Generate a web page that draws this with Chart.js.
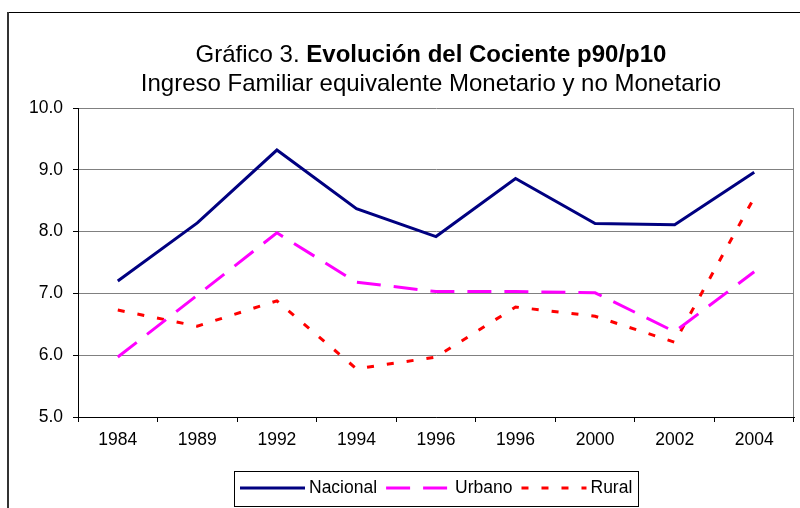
<!DOCTYPE html>
<html>
<head>
<meta charset="utf-8">
<script src="https://cdn.jsdelivr.net/npm/chart.js@4.4.0/dist/chart.umd.min.js"></script>
<style>
  html, body { margin: 0; padding: 0; background: #fff; }
  canvas { display: block; }
</style>
</head>
<body>
<canvas id="chart" width="800" height="508"></canvas>
<script>
// data
const years = ["1984", "1989", "1992", "1994", "1996", "1996", "2000", "2002", "2004"];
const nacional = [7.20, 8.14, 9.32, 8.37, 7.92, 8.86, 8.13, 8.11, 8.96];
const urbano = [5.97, 6.97, 7.98, 7.18, 7.03, 7.03, 7.01, 6.38, 7.35];
const rural = [6.73, 6.47, 6.88, 5.78, 5.97, 6.78, 6.63, 6.21, 8.55];
const yTicks = [5, 6, 7, 8, 9, 10];

const FONT = "'Liberation Sans', Arial, sans-serif";
const SMALL = 17.5;

// title: "Gráfico 3." normal + bold rest, two lines
const titlePlugin = {
  id: "titleText",
  afterDraw(chart) {
    const ctx = chart.ctx;
    const cx = 431;
    ctx.save();
    ctx.fillStyle = "#000";
    ctx.textBaseline = "alphabetic";
    ctx.textAlign = "left";
    const a = "Gráfico 3. ";
    const b = "Evolución del Cociente p90/p10";
    ctx.font = "24px " + FONT;
    const wa = ctx.measureText(a).width;
    ctx.font = "bold 24px " + FONT;
    const wb = ctx.measureText(b).width;
    let x = cx - (wa + wb) / 2;
    ctx.font = "24px " + FONT;
    ctx.fillText(a, x, 62);
    ctx.font = "bold 24px " + FONT;
    ctx.fillText(b, x + wa, 62);
    ctx.font = "24px " + FONT;
    ctx.textAlign = "center";
    ctx.fillText("Ingreso Familiar equivalente Monetario y no Monetario", cx, 91);
    ctx.restore();
  }
};

// outer frame and right border of the plot area
const framePlugin = {
  id: "frame",
  beforeDraw(chart) {
    const ctx = chart.ctx;
    ctx.save();
    ctx.fillStyle = "#fff";
    ctx.fillRect(0, 0, chart.width, chart.height);
    ctx.strokeStyle = "#000";
    ctx.lineWidth = 1;
    ctx.beginPath();
    ctx.moveTo(8, 12.5);
    ctx.lineTo(800, 12.5);
    ctx.stroke();
    ctx.strokeStyle = "#333";
    ctx.lineWidth = 2;
    ctx.beginPath();
    ctx.moveTo(8, 12);
    ctx.lineTo(8, 508);
    ctx.stroke();
    ctx.restore();
  },
  beforeDatasetsDraw(chart) {
    const a = chart.chartArea;
    const ctx = chart.ctx;
    ctx.save();
    ctx.strokeStyle = "#808080";
    ctx.lineWidth = 1;
    ctx.beginPath();
    ctx.moveTo(Math.round(a.right) - 0.5, a.top);
    ctx.lineTo(Math.round(a.right) - 0.5, a.bottom);
    ctx.stroke();
    ctx.restore();
  }
};

// boxed legend under the axis
const legendPlugin = {
  id: "boxLegend",
  afterDraw(chart) {
    const ctx = chart.ctx;
    const sets = chart.data.datasets;
    const lineLen = 65, textGap = 4, itemGap = 9, pad = 6;
    ctx.save();
    ctx.font = SMALL + "px " + FONT;
    const widths = sets.map((d) => ctx.measureText(d.label).width);
    let total = pad * 2 + itemGap * (sets.length - 1);
    widths.forEach((w) => (total += lineLen + textGap + w));
    const cx = (chart.chartArea.left + chart.chartArea.right) / 2;
    const left = Math.round(cx - total / 2);
    const top = 471, h = 35, midY = 488;
    ctx.strokeStyle = "#000";
    ctx.lineWidth = 1;
    ctx.strokeRect(left + 0.5, top + 0.5, Math.round(total), h);
    let x = left + pad;
    sets.forEach((d, i) => {
      ctx.strokeStyle = d.borderColor;
      ctx.lineWidth = d.borderWidth;
      ctx.setLineDash(d.borderDash || []);
      ctx.lineCap = "butt";
      ctx.beginPath();
      ctx.moveTo(x, midY);
      ctx.lineTo(x + lineLen, midY);
      ctx.stroke();
      ctx.setLineDash([]);
      ctx.fillStyle = "#000";
      ctx.textBaseline = "middle";
      ctx.fillText(d.label, x + lineLen + textGap, midY);
      x += lineLen + textGap + widths[i] + itemGap;
    });
    ctx.restore();
  }
};

new Chart(document.getElementById("chart"), {
  type: "line",
  data: {
    labels: years,
    datasets: [
      {
        label: "Nacional",
        data: nacional,
        borderColor: "#000080",
        borderWidth: 3,
      },
      {
        label: "Urbano",
        data: urbano,
        borderColor: "#FF00FF",
        borderWidth: 3,
        borderDash: [24, 13],
      },
      {
        label: "Rural",
        data: rural,
        borderColor: "#FF0000",
        borderWidth: 3,
        borderDash: [7, 13],
      },
    ],
  },
  options: {
    responsive: false,
    devicePixelRatio: 1,
    animation: false,
    events: [],
    layout: { padding: { top: 108, left: 0, right: 6, bottom: 0 } },
    elements: {
      point: { radius: 0 },
      line: { tension: 0, borderCapStyle: "butt", fill: false },
    },
    plugins: {
      legend: { display: false },
      title: { display: false },
      tooltip: { enabled: false },
    },
    scales: {
      x: {
        offset: true,
        afterFit: (s) => { s.height = 91; },
        grid: {
          offset: true,
          drawOnChartArea: false,
          tickLength: 5,
          tickColor: "#000",
        },
        border: { color: "#000", width: 1 },
        ticks: {
          color: "#000",
          font: { family: FONT, size: SMALL },
          padding: 8,
          maxRotation: 0,
          autoSkip: false,
        },
      },
      y: {
        min: yTicks[0],
        max: yTicks[yTicks.length - 1],
        afterFit: (s) => { s.width = 78; },
        afterBuildTicks: (s) => { s.ticks = yTicks.map((v) => ({ value: v })); },
        grid: {
          color: "#808080",
          tickLength: 5,
          tickColor: "#000",
        },
        border: { color: "#000", width: 1 },
        ticks: {
          color: "#000",
          font: { family: FONT, size: SMALL },
          padding: 10,
          callback: (v) => Number(v).toFixed(1),
        },
      },
    },
  },
  plugins: [framePlugin, titlePlugin, legendPlugin],
});
</script>
</body>
</html>
